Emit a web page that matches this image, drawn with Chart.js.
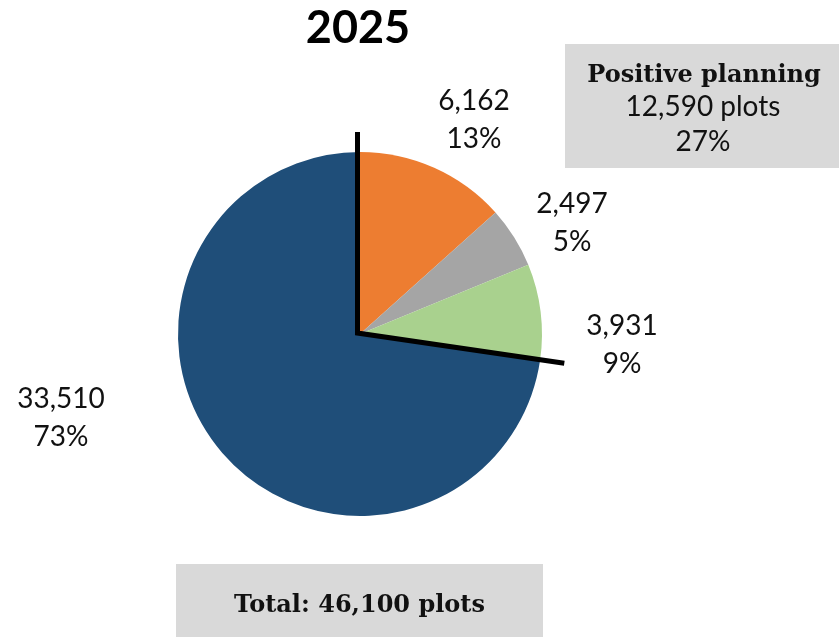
<!DOCTYPE html>
<html>
<head>
<meta charset="utf-8">
<script src="https://cdn.jsdelivr.net/npm/chart.js@4"></script>
<style>
  html, body { margin: 0; padding: 0; background: #ffffff; }
  canvas { display: block; }
</style>
</head>
<body>
<canvas id="chart" width="839" height="637"></canvas>
<script>
// Plot counts for 2025, clockwise from 12 o'clock
const chartTitle = '2025';
const categories = ['Planning group 1', 'Planning group 2', 'Planning group 3', 'Without positive planning'];
const plots = [6162, 2497, 3931, 33510];
const sliceColors = ['#ED7D31', '#A5A5A5', '#A9D18E', '#1F4E79'];
// the first three slices together form the positive-planning group
const positiveCount = 3;

const fmt = n => n.toLocaleString('en-US');
const total = plots.reduce((a, b) => a + b, 0);
const positiveTotal = plots.slice(0, positiveCount).reduce((a, b) => a + b, 0);
const pct = n => Math.round(n / total * 100) + '%';

const LABEL_FONT = '28px Lato';
const BOLD_FONT = 'bold 24px "DejaVu Serif"';

// label anchor (centre x, first baseline) relative to the pie centre
const labelOffsets = [
  { dx: 114, dy: -224 },
  { dx: 212, dy: -121 },
  { dx: 262, dy: 1 },
  { dx: -299, dy: 74 }
];

const annotate = {
  id: 'annotate',
  afterDraw(chart) {
    const ctx = chart.ctx;
    const arcs = chart.getDatasetMeta(0).data;
    const cx = arcs[0].x, cy = arcs[0].y, r = arcs[0].outerRadius;

    ctx.save();

    // title
    ctx.fillStyle = '#000';
    ctx.textAlign = 'center';
    ctx.textBaseline = 'alphabetic';
    ctx.font = 'bold 45px Lato';
    ctx.fillText(chartTitle, 358, 43);

    // divider around the positive-planning slices
    const a0 = arcs[0].startAngle;
    const a1 = arcs[positiveCount - 1].endAngle;
    const ox = cx - 2.5, oy = cy - 1;
    ctx.beginPath();
    ctx.moveTo(ox + Math.cos(a0) * (r + 19), oy + Math.sin(a0) * (r + 19));
    ctx.lineTo(ox, oy);
    ctx.lineTo(ox + Math.cos(a1) * (r + 27), oy + Math.sin(a1) * (r + 27));
    ctx.lineWidth = 5;
    ctx.lineJoin = 'miter';
    ctx.lineCap = 'butt';
    ctx.strokeStyle = '#000';
    ctx.stroke();

    // slice value labels
    ctx.font = LABEL_FONT;
    ctx.fillStyle = '#111';
    plots.forEach((v, i) => {
      const o = labelOffsets[i];
      ctx.fillText(fmt(v), cx + o.dx, cy + o.dy);
      ctx.fillText(pct(v), cx + o.dx, cy + o.dy + 38);
    });

    // positive planning summary box
    ctx.fillStyle = '#D9D9D9';
    ctx.fillRect(565, 44, 274, 124);
    ctx.fillStyle = '#111';
    ctx.font = BOLD_FONT;
    ctx.fillText('Positive planning', 704, 82);
    ctx.font = LABEL_FONT;
    ctx.fillText(fmt(positiveTotal) + ' plots', 703, 116);
    ctx.fillText(pct(positiveTotal), 703, 151);

    // total box
    ctx.fillStyle = '#D9D9D9';
    ctx.fillRect(176, 564, 367, 73);
    ctx.fillStyle = '#111';
    ctx.font = BOLD_FONT;
    ctx.fillText('Total: ' + fmt(total) + ' plots', 359.5, 612);

    ctx.restore();
  }
};

new Chart(document.getElementById('chart'), {
  type: 'pie',
  data: {
    labels: categories,
    datasets: [{
      data: plots,
      backgroundColor: sliceColors,
      borderWidth: 0
    }]
  },
  options: {
    responsive: false,
    animation: false,
    devicePixelRatio: 1,
    rotation: 0,
    layout: { padding: { top: 152, left: 178, right: 297, bottom: 121 } },
    plugins: {
      legend: { display: false },
      tooltip: { enabled: false },
      title: { display: false }
    }
  },
  plugins: [annotate]
});
</script>
</body>
</html>
